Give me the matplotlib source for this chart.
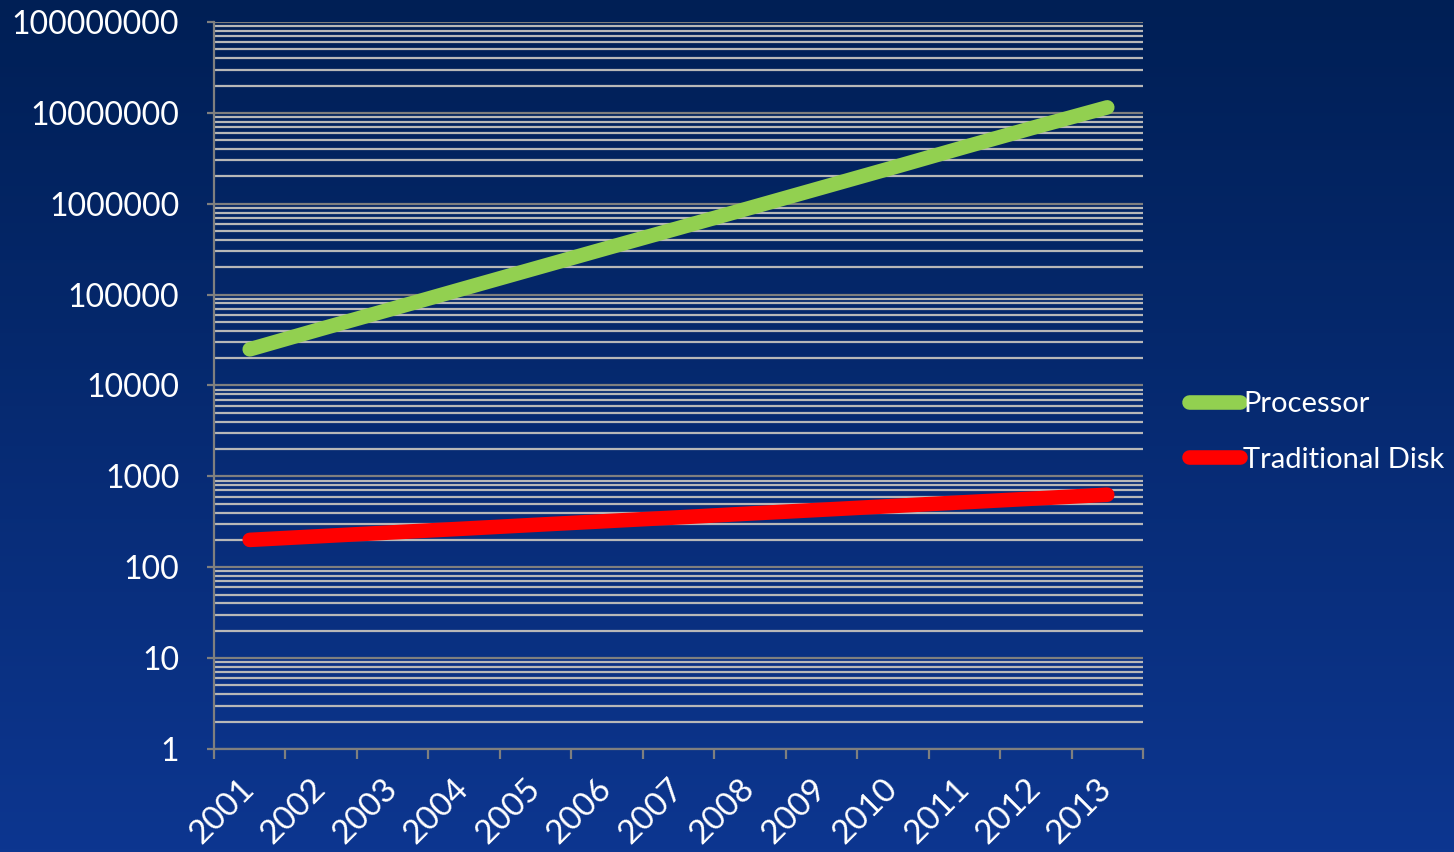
import numpy as np
import matplotlib.pyplot as plt
from matplotlib.ticker import LogLocator, FixedLocator, NullFormatter

years = ['2001', '2002', '2003', '2004', '2005', '2006', '2007',
         '2008', '2009', '2010', '2011', '2012', '2013']
processor = [25000, 42000, 70000, 117000, 195000, 325000, 540000,
             900000, 1500000, 2500000, 4200000, 7000000, 11500000]
disk = [200, 220, 242, 266, 293, 322, 354, 390, 429, 472, 519, 571, 628]

plt.rcParams['font.family'] = ['Lato', 'DejaVu Sans']

fig = plt.figure(figsize=(14.54, 8.52), dpi=100)

# gradient background
bg = fig.add_axes([0, 0, 1, 1], zorder=-10)
top_c = np.array([0x00, 0x1f, 0x55]) / 255
bot_c = np.array([0x0d, 0x36, 0x90]) / 255
t = np.linspace(0, 1, 256)[:, None]
grad = top_c[None, :] * (1 - t) + bot_c[None, :] * t
bg.imshow(grad[:, None, :].repeat(2, axis=1), aspect='auto', extent=[0, 1, 0, 1])
bg.axis('off')

ax = fig.add_axes([214 / 1454, 1 - 749 / 852, 929 / 1454, 727 / 852])
ax.patch.set_alpha(0)

x = np.arange(len(years))
ax.plot(x, processor, color='#92d050', lw=10.5, solid_capstyle='round', label='Processor')
ax.plot(x, disk, color='#ff0000', lw=10.5, solid_capstyle='round', label='Traditional Disk')

ax.set_yscale('log')
ax.set_ylim(1, 1e8)
ax.set_xlim(-0.5, len(years) - 0.5)

ax.yaxis.set_minor_locator(LogLocator(base=10, subs=np.arange(2, 10), numticks=20))
ax.yaxis.set_minor_formatter(NullFormatter())
ax.set_yticks([10 ** k for k in range(9)])
ax.set_yticklabels([str(10 ** k) for k in range(9)])
ax.grid(which='minor', axis='y', color='#b8b8b8', lw=1.6)
ax.grid(which='major', axis='y', color='#7f7f7f', lw=1.6)
ax.set_axisbelow(True)

ax.xaxis.set_major_locator(FixedLocator(np.arange(-0.5, len(years), 1.0)))
ax.xaxis.set_major_formatter(NullFormatter())
ax.xaxis.set_minor_locator(FixedLocator(x))
ax.set_xticklabels(years, minor=True)

for s in ['top', 'right']:
    ax.spines[s].set_visible(False)
for s in ['left', 'bottom']:
    ax.spines[s].set_color('#7f7f7f')
    ax.spines[s].set_linewidth(1.6)

ax.tick_params(axis='y', which='major', color='#7f7f7f', width=1.6, length=5,
               labelsize=23, labelcolor='white', pad=20)
ax.tick_params(axis='y', which='minor', length=0)
ax.tick_params(axis='x', which='major', color='#7f7f7f', width=1.6, length=7)
ax.tick_params(axis='x', which='minor', length=0, labelsize=24, labelcolor='white', pad=25)
for lab in ax.get_xticklabels(minor=True):
    lab.set_rotation(45)
    lab.set_ha('right')
    lab.set_va('center')
    lab.set_rotation_mode('anchor')

leg = ax.legend(loc='center left', bbox_to_anchor=(1163 / 1454, 1 - 432 / 852),
                bbox_transform=fig.transFigure, frameon=False, fontsize=21,
                handlelength=1.75, handletextpad=0.1, labelspacing=1.0)
for text in leg.get_texts():
    text.set_color('white')

fig.savefig('out.png', dpi=100)
